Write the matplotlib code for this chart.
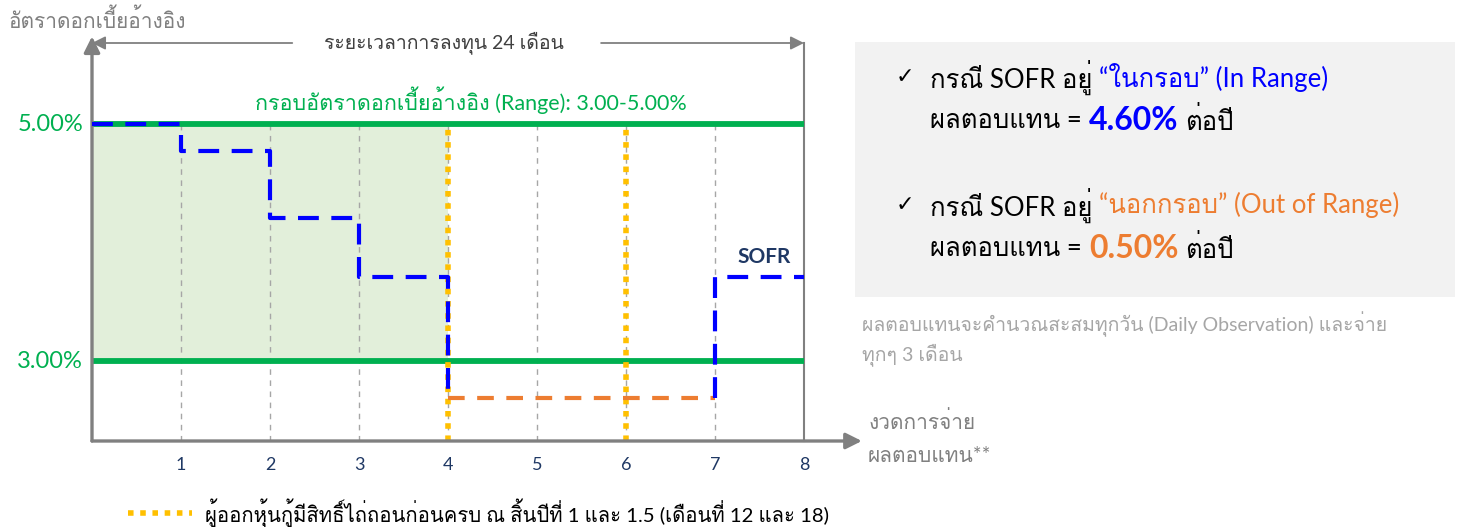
import matplotlib
matplotlib.use("Agg")
import matplotlib.pyplot as plt
from matplotlib import font_manager
from matplotlib.patches import Rectangle
from matplotlib.lines import Line2D
from fontTools.ttLib import TTFont


def find_thai_font():
    # first installed family that has Thai glyphs, if any
    for f in font_manager.fontManager.ttflist:
        try:
            cmap = TTFont(f.fname, fontNumber=0, lazy=True).getBestCmap()
        except Exception:
            continue
        if cmap and 0x0E01 in cmap:
            return f.name
    return None


thai = find_thai_font()
plt.rcParams["font.family"] = ["Lato"] + ([thai] if thai else []) + ["DejaVu Sans"]

# data
periods = [0, 1, 2, 3, 4, 5, 6, 7, 8]
sofr = [5.00, 4.77, 4.21, 3.71, 2.69, 2.69, 2.69, 3.71]
range_low, range_high = 3.00, 5.00
call_periods = [4, 6]
xtick_vals = [1, 2, 3, 4, 5, 6, 7, 8]
ytick_vals = [3.00, 5.00]
in_range_ret = 4.60
out_range_ret = 0.50

GREEN = "#00b050"
BLUE = "#0000ff"
ORANGE = "#ed7d31"
GOLD = "#ffc000"
GREY = "#808080"
NAVY = "#1f3864"

W, H = 1460, 527
fig = plt.figure(figsize=(W / 100, H / 100), dpi=100)


def px(x, y):
    return x / W, 1 - y / H


ymin, ymax = 2.325, 5.684
ax = fig.add_axes([92 / W, (H - 441) / H, 712 / W, 398 / H])
ax.set_xlim(0, 8)
ax.set_ylim(ymin, ymax)
ax.axis("off")

# range band
ax.fill_between([0, call_periods[0]], range_low, range_high, color="#e2efda", lw=0, zorder=0)

# grid verticals
for x in xtick_vals[:-1]:
    ax.plot([x, x], [ymin, range_high], color="#a6a6a6", lw=1, ls=(0, (4, 4)), zorder=1)
ax.plot([8, 8], [ymin, ymax], color=GREY, lw=1.5, clip_on=False, zorder=1)

# range lines
for v in ytick_vals:
    ax.plot([0, 8], [v, v], color=GREEN, lw=4.2, solid_capstyle="butt", zorder=2)

# call dates
for x in call_periods:
    ax.plot([x, x], [ymin, range_high], color=GOLD, lw=4, ls=(0, (1, 1.2)), zorder=3)

# SOFR path
xs, ys = [], []
for i in range(4):
    xs += [periods[i], periods[i + 1]]
    ys += [sofr[i], sofr[i]]
xs.append(periods[4])
ys.append(sofr[4])
ax.plot(xs, ys, color=BLUE, lw=3, dashes=(5, 3), zorder=4)
ax.plot([periods[4], periods[7]], [sofr[4], sofr[6]], color=ORANGE, lw=3, dashes=(4, 3), zorder=4)
ax.plot([periods[7], periods[7], periods[8]], [sofr[6], sofr[7], sofr[7]],
        color=BLUE, lw=3, dashes=(5, 3), zorder=4, clip_on=False)

# axes arrows
arr = dict(arrowstyle="-|>", color=GREY, shrinkA=0, shrinkB=0)
ax.annotate("", xy=(0, 5.74), xytext=(0, ymin), annotation_clip=False,
            arrowprops=dict(arr, lw=2.4, mutation_scale=24))
ax.annotate("", xy=(8.65, ymin), xytext=(0, ymin), annotation_clip=False,
            arrowprops=dict(arr, lw=2.4, mutation_scale=24))
ax.annotate("", xy=(0, ymax), xytext=(2.25, ymax), annotation_clip=False,
            arrowprops=dict(arr, lw=1.3, mutation_scale=20))
ax.annotate("", xy=(8, ymax), xytext=(5.72, ymax), annotation_clip=False,
            arrowprops=dict(arr, lw=1.3, mutation_scale=20))

# tick labels
for x in xtick_vals:
    ax.text(x, 2.12, str(x), color=NAVY, fontsize=13, ha="center", va="center")
for v in ytick_vals:
    ax.text(-0.1, v, f"{v:.2f}%", color=GREEN, fontsize=17, ha="right", va="center")

ax.text(3.95, ymax, "ระยะเวลาการลงทุน 24 เดือน", color="#404040", fontsize=14,
        ha="center", va="center")
ax.text(4.26, 5.2, f"กรอบอัตราดอกเบี้ยอ้างอิง (Range): {range_low:.2f}-{range_high:.2f}%",
        color=GREEN, fontsize=15.5, ha="center", va="center")
ax.text(7.55, 3.88, "SOFR", color=NAVY, fontsize=15, fontweight="bold", ha="center", va="center")

fig.text(*px(8, 20), "อัตราดอกเบี้ยอ้างอิง", color=GREY, fontsize=15, ha="left", va="center")
fig.text(*px(868, 422), "งวดการจ่าย", color=GREY, fontsize=15, ha="left", va="center")
fig.text(*px(868, 456), "ผลตอบแทน**", color=GREY, fontsize=15, ha="left", va="center")

# right info box
fig.patches.append(Rectangle(px(855, 297), 600 / W, 255 / H, transform=fig.transFigure,
                             facecolor="#f2f2f2", edgecolor="none"))

renderer = fig.canvas.get_renderer()


def text_run(x, y, parts):
    for s, kw in parts:
        t = fig.text(*px(x, y), s, ha="left", va="center", **kw)
        bb = t.get_window_extent(renderer)
        x = bb.x1 + 7


norm = dict(color="black", fontsize=18.5)
big = dict(fontsize=23, fontweight="bold")
fig.text(*px(896, 77), "✓", color="black", fontsize=16, ha="left", va="center")
text_run(930, 77, [("กรณี SOFR อยู่", norm),
                   ("“ในกรอบ” (In Range)", dict(norm, color=BLUE))])
text_run(930, 121, [("ผลตอบแทน =", norm),
                    (f"{in_range_ret:.2f}%", dict(big, color=BLUE)),
                    ("ต่อปี", norm)])
fig.text(*px(896, 205), "✓", color="black", fontsize=16, ha="left", va="center")
text_run(930, 205, [("กรณี SOFR อยู่", norm),
                    ("“นอกกรอบ” (Out of Range)", dict(norm, color=ORANGE))])
text_run(930, 249, [("ผลตอบแทน =", norm),
                    (f"{out_range_ret:.2f}%", dict(big, color=ORANGE)),
                    ("ต่อปี", norm)])

fig.text(*px(862, 324), "ผลตอบแทนจะคำนวณสะสมทุกวัน (Daily Observation) และจ่าย",
         color="#a6a6a6", fontsize=14, ha="left", va="center")
fig.text(*px(862, 355), "ทุกๆ 3 เดือน", color="#a6a6a6", fontsize=14, ha="left", va="center")

# legend for call dates
fig.lines.append(Line2D([128 / W, 192 / W], [1 - 513 / H] * 2, transform=fig.transFigure,
                        color=GOLD, lw=4, ls=(0, (1, 1.2))))
fig.text(*px(205, 513), "ผู้ออกหุ้นกู้มีสิทธิ์ไถ่ถอนก่อนครบ ณ สิ้นปีที่ 1 และ 1.5 (เดือนที่ 12 และ 18)",
         color="black", fontsize=14.6, ha="left", va="center")

fig.savefig("out.png", dpi=100)
